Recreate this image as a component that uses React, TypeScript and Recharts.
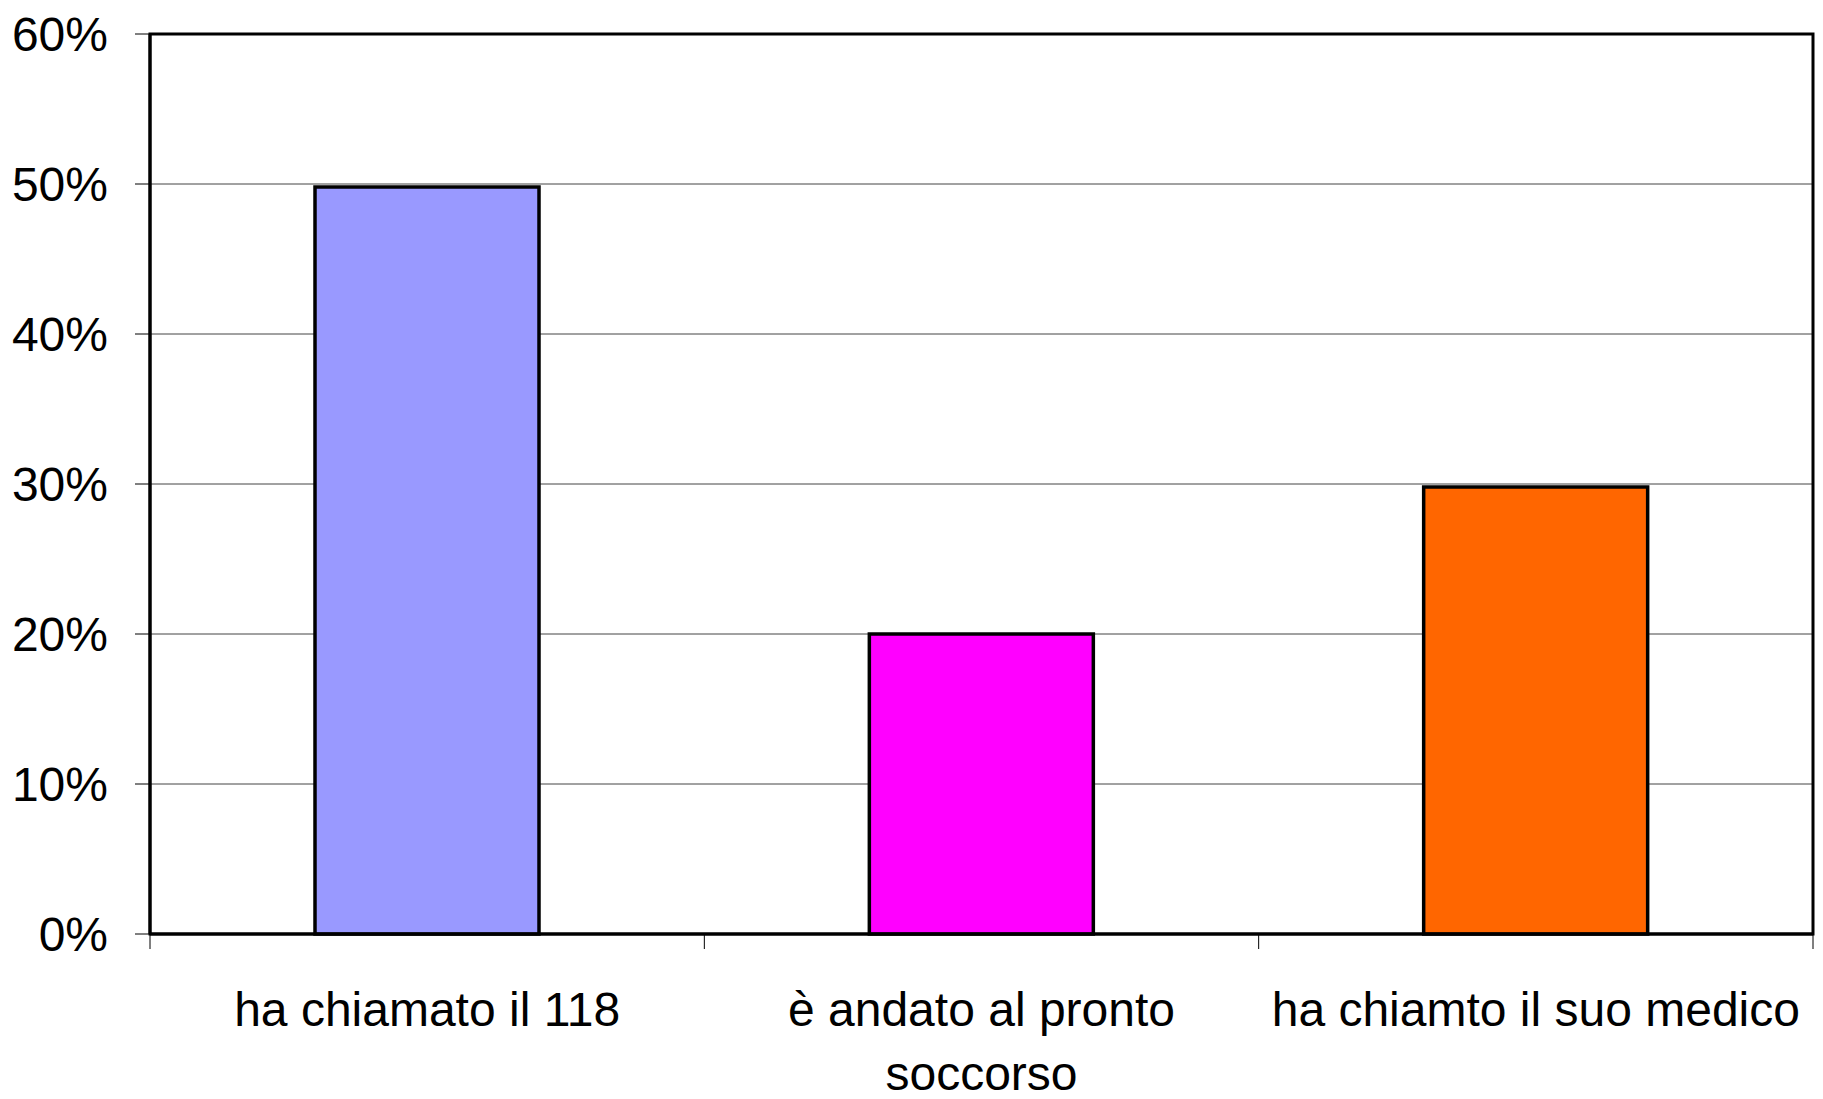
import React from "react";
import {
  BarChart,
  Bar,
  Cell,
  XAxis,
  YAxis,
  CartesianGrid,
  ReferenceArea,
} from "recharts";

const categories = ["ha chiamato il 118", "è andato al pronto soccorso", "ha chiamto il suo medico"];
const shares = [0.498, 0.2, 0.298];
const barColors = ["#9999FF", "#FF00FF", "#FF6600"];
const yTicks = [0, 0.1, 0.2, 0.3, 0.4, 0.5, 0.6];
const boundaryTicks = [0, 1, 2, 3];

const FONT = "'Liberation Sans', Arial, sans-serif";
const FONT_SIZE = 48;

// pos = centro della categoria, serve solo all'asse dei separatori
const data = categories.map((name, i) => ({ name, value: shares[i], pos: i + 0.5 }));

// spezza il testo in righe che stanno nella larghezza data
function wrapWords(text: string, maxWidth: number): string[] {
  const ctx = document.createElement("canvas").getContext("2d");
  if (!ctx) return [text];
  ctx.font = `${FONT_SIZE}px ${FONT}`;
  const lines: string[] = [];
  let cur = "";
  for (const w of text.split(" ")) {
    const next = cur ? cur + " " + w : w;
    if (cur && ctx.measureText(next).width > maxWidth) {
      lines.push(cur);
      cur = w;
    } else {
      cur = next;
    }
  }
  if (cur) lines.push(cur);
  return lines;
}

function CategoryTick(props: any) {
  const { x, y, payload } = props;
  const lines = wrapWords(String(payload.value), 545);
  return (
    <text x={x} y={y} textAnchor="middle" fontSize={FONT_SIZE} fontFamily={FONT} fill="#000">
      {lines.map((l, i) => (
        <tspan key={i} x={x} dy={i === 0 ? "0.71em" : 64}>
          {l}
        </tspan>
      ))}
    </text>
  );
}

function EmptyTick() {
  return <g />;
}

export default function App() {
  return (
    <div style={{ position: "absolute", left: 0, top: 0, width: 1823, height: 1099, background: "#fff" }}>
      <BarChart
        width={1823}
        height={1099}
        data={data}
        margin={{ top: 34, right: 10, bottom: 0, left: 0 }}
        barSize={224}
      >
        <CartesianGrid xAxisId="b" vertical={false} stroke="#444" strokeWidth={1} />
        <XAxis
          xAxisId="a"
          dataKey="pos"
          type="number"
          domain={[0, categories.length]}
          ticks={boundaryTicks}
          interval={0}
          tick={<EmptyTick />}
          tickSize={15}
          height={1}
          axisLine={{ stroke: "#000", strokeWidth: 3 }}
          tickLine={{ stroke: "#000", strokeWidth: 1 }}
          allowDataOverflow
        />
        <XAxis
          xAxisId="b"
          dataKey="name"
          height={164}
          axisLine={false}
          tickLine={false}
          tickSize={0}
          tickMargin={57}
          interval={0}
          tick={<CategoryTick />}
        />
        <YAxis
          width={150}
          domain={[0, 0.6]}
          ticks={yTicks}
          interval={0}
          tickSize={15}
          tickMargin={27}
          tickFormatter={(v: number) => `${Math.round(v * 100)}%`}
          tick={{ fontSize: FONT_SIZE, fill: "#000", fontFamily: FONT }}
          axisLine={{ stroke: "#000", strokeWidth: 3 }}
          tickLine={{ stroke: "#000", strokeWidth: 1 }}
        />
        <Bar xAxisId="b" dataKey="value" stroke="#000" strokeWidth={3.5} isAnimationActive={false}>
          {data.map((d, i) => (
            <Cell key={d.name} fill={barColors[i]} />
          ))}
        </Bar>
        <ReferenceArea
          xAxisId="b"
          y1={0}
          y2={0.6}
          fill="none"
          stroke="#000"
          strokeWidth={3}
          ifOverflow="visible"
        />
      </BarChart>
    </div>
  );
}
